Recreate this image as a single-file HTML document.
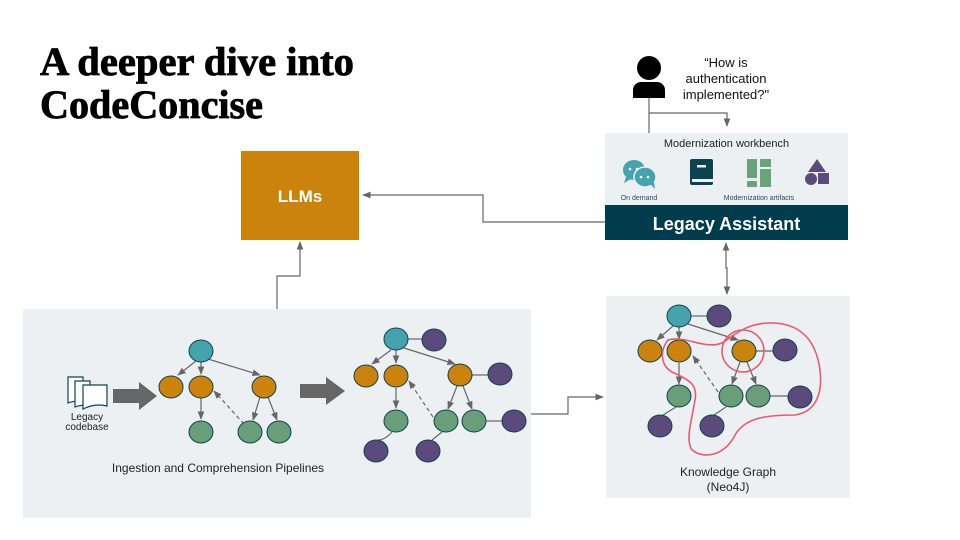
<!DOCTYPE html>
<html><head><meta charset="utf-8"><style>
html,body{margin:0;padding:0;background:#fff;}
svg{display:block;}
text{font-family:"Liberation Sans",sans-serif;}
</style></head><body>
<svg width="960" height="540" viewBox="0 0 960 540" xmlns="http://www.w3.org/2000/svg">
<defs>
<marker id="a" viewBox="0 0 10 10" refX="9" refY="5" markerWidth="7" markerHeight="7" orient="auto-start-reverse"><path d="M0,1 L10,5 L0,9 z" fill="#666"/></marker>
</defs>
<rect width="960" height="540" fill="#fff"/>
<text x="40" y="75" font-weight="bold" font-size="40" textLength="314" lengthAdjust="spacingAndGlyphs" style="font-family:'Liberation Serif',serif" stroke="#000" stroke-width="0.8">A deeper dive into</text>
<text x="40" y="118" font-weight="bold" font-size="40" textLength="223" lengthAdjust="spacingAndGlyphs" style="font-family:'Liberation Serif',serif" stroke="#000" stroke-width="0.8">CodeConcise</text>

<!-- panels -->
<rect x="23" y="309" width="508" height="209" fill="#edf0f3"/>
<rect x="606" y="296" width="244" height="202" fill="#edf0f3"/>
<rect x="605" y="133" width="243" height="72" fill="#edf0f3"/>
<rect x="605" y="205" width="243" height="35" fill="#003d4c"/>
<text x="726.5" y="230" text-anchor="middle" fill="#fff" font-weight="bold" font-size="18">Legacy Assistant</text>
<text x="726.5" y="147" text-anchor="middle" fill="#222" font-size="11">Modernization workbench</text>
<text x="639" y="200" text-anchor="middle" fill="#1d4f5e" font-size="7">On demand</text>
<text x="759" y="200" text-anchor="middle" fill="#1d4f5e" font-size="7">Modernization artifacts</text>
<!-- icons -->
<ellipse cx="634" cy="170" rx="11" ry="10" fill="#45a3ae"/><path d="M626,177 l-2,6 l7,-4z" fill="#45a3ae"/>
<ellipse cx="645" cy="177" rx="11" ry="10" fill="#45a3ae" stroke="#edf0f3" stroke-width="1.5"/><path d="M650,184 l5,5 l-1,-7z" fill="#45a3ae"/>
<circle cx="630" cy="169" r="1.3" fill="#fff"/><circle cx="637" cy="169" r="1.3" fill="#fff"/>
<circle cx="641" cy="177" r="1.3" fill="#fff"/><circle cx="648" cy="177" r="1.3" fill="#fff"/>
<rect x="690" y="159" width="23" height="26" rx="2" fill="#0b4352"/><rect x="692" y="179" width="21" height="3" fill="#edf0f3"/><rect x="697" y="165" width="9" height="2.5" fill="#edf0f3"/>
<rect x="747" y="159" width="10" height="19" fill="#6aa27a"/><rect x="747" y="181" width="10" height="6" fill="#6aa27a"/><rect x="760" y="159" width="11" height="8" fill="#6aa27a"/><rect x="760" y="169" width="11" height="18" fill="#6aa27a"/>
<path d="M817,159 l9,13 h-18z" fill="#5c4a7d"/><circle cx="811" cy="179" r="6" fill="#5c4a7d"/><rect x="818" y="173" width="11" height="11" fill="#5c4a7d"/>

<rect x="241" y="151" width="118" height="89" fill="#cb830b"/>
<text x="300" y="202" text-anchor="middle" fill="#fff" font-weight="bold" font-size="17">LLMs</text>

<!-- person -->
<circle cx="649" cy="68" r="12" fill="#000"/>
<path d="M633,98 v-8 a8,8 0 0 1 8,-8 h16 a8,8 0 0 1 8,8 v8z" fill="#000"/>
<text x="726" y="67" text-anchor="middle" font-size="13" fill="#111">“How is</text>
<text x="726" y="83" text-anchor="middle" font-size="13" fill="#111">authentication</text>
<text x="726" y="99" text-anchor="middle" font-size="13" fill="#111">implemented?"</text>

<g fill="none" stroke="#666" stroke-width="1.2">
<path d="M649,98 V133"/>
<path d="M649,113 H727 V126" marker-end="url(#a)"/>
<path d="M605,222 H483 V195 H363" marker-end="url(#a)"/>
<path d="M277,309 V276 H300 V242" marker-end="url(#a)"/>
<path d="M531,414 H568 V397 H603" marker-end="url(#a)"/>
<path d="M726,243 V268 L727,268 V294" marker-start="url(#a)" marker-end="url(#a)"/>
</g>

<!-- legacy codebase -->
<g fill="#fff" stroke="#0e4352" stroke-width="1.2">
<path d="M68,377 h15 v25 q-7,-2 -15,1z"/>
<path d="M75,381 h15 v25 q-7,-2 -15,1z"/>
<path d="M83,385 h24 v21 q-12,-3 -24,3z"/>
</g>
<text x="87" y="420" text-anchor="middle" font-size="10" fill="#222">Legacy</text>
<text x="87" y="430" text-anchor="middle" font-size="10" fill="#222">codebase</text>
<path d="M113,389 h26 v-7 l18,14 l-18,14 v-7 h-26z" fill="#666"/>
<path d="M300,384 h26 v-7 l19,14 l-19,14 v-7 h-26z" fill="#666"/>
<text x="218" y="472" text-anchor="middle" font-size="12" fill="#222">Ingestion and Comprehension Pipelines</text>
<text x="728" y="476" text-anchor="middle" font-size="12" fill="#222">Knowledge Graph</text>
<text x="728" y="491" text-anchor="middle" font-size="12" fill="#222">(Neo4J)</text>

<!-- graph1 -->
<g fill="none" stroke="#666" stroke-width="1.2">
<path d="M196,361 L178,375" marker-end="url(#a)"/><path d="M201,362 V374" marker-end="url(#a)"/><path d="M208,359 L260,375" marker-end="url(#a)"/>
<path d="M201,398 V419" marker-end="url(#a)"/><path d="M260,397 L253,420" marker-end="url(#a)"/><path d="M268,397 L277,420" marker-end="url(#a)"/>
<path d="M244,424 L214,391" stroke-dasharray="4,3" marker-end="url(#a)"/>
</g>
<!-- graph2 -->
<g fill="none" stroke="#666" stroke-width="1.2">
<path d="M408,339 H422"/><path d="M472,375 H488"/><path d="M486,421 H502"/>
<path d="M391,350 L372,364" marker-end="url(#a)"/><path d="M396,350 V363" marker-end="url(#a)"/><path d="M404,348 L455,364" marker-end="url(#a)"/>
<path d="M396,388 V408" marker-end="url(#a)"/><path d="M457,386 L448,409" marker-end="url(#a)"/><path d="M463,386 L472,409" marker-end="url(#a)"/>
<path d="M433,417 L409,381" stroke-dasharray="4,3" marker-end="url(#a)"/>
<path d="M392,432 Q385,440 378,440"/><path d="M442,432 L432,440"/>
</g>
<!-- graph3 -->
<g fill="none" stroke="#666" stroke-width="1.2">
<path d="M691,316 H707"/><path d="M756,351 H773"/><path d="M770,396 H788"/>
<path d="M673,326 L657,340" marker-end="url(#a)"/><path d="M679,327 V339" marker-end="url(#a)"/><path d="M688,324 L738,340" marker-end="url(#a)"/>
<path d="M679,363 V384" marker-end="url(#a)"/><path d="M740,362 L732,384" marker-end="url(#a)"/><path d="M747,362 L756,384" marker-end="url(#a)"/>
<path d="M718,392 L693,356" stroke-dasharray="4,3" marker-end="url(#a)"/>
<path d="M676,407 L663,415"/><path d="M726,407 L714,415"/>
</g>

<g stroke="#0e4352" stroke-width="1">
<ellipse cx="201" cy="351" rx="12" ry="11" fill="#45a3ae"/>
<ellipse cx="171" cy="387" rx="12" ry="11" fill="#cb830b"/><ellipse cx="201" cy="387" rx="12" ry="11" fill="#cb830b"/><ellipse cx="264" cy="387" rx="12" ry="11" fill="#cb830b"/>
<ellipse cx="201" cy="432" rx="12" ry="11" fill="#6a9e78"/><ellipse cx="250" cy="432" rx="12" ry="11" fill="#6a9e78"/><ellipse cx="279" cy="432" rx="12" ry="11" fill="#6a9e78"/>

<ellipse cx="396" cy="339" rx="12" ry="11" fill="#45a3ae"/><ellipse cx="434" cy="340" rx="12" ry="11" fill="#5c4a7d"/>
<ellipse cx="366" cy="376" rx="12" ry="11" fill="#cb830b"/><ellipse cx="396" cy="376" rx="12" ry="11" fill="#cb830b"/><ellipse cx="460" cy="375" rx="12" ry="11" fill="#cb830b"/><ellipse cx="500" cy="374" rx="12" ry="11" fill="#5c4a7d"/>
<ellipse cx="396" cy="421" rx="12" ry="11" fill="#6a9e78"/><ellipse cx="446" cy="421" rx="12" ry="11" fill="#6a9e78"/><ellipse cx="474" cy="421" rx="12" ry="11" fill="#6a9e78"/><ellipse cx="514" cy="421" rx="12" ry="11" fill="#5c4a7d"/>
<ellipse cx="376" cy="451" rx="12" ry="11" fill="#5c4a7d"/><ellipse cx="428" cy="451" rx="12" ry="11" fill="#5c4a7d"/>

<ellipse cx="679" cy="316" rx="12" ry="11" fill="#45a3ae"/><ellipse cx="719" cy="316" rx="12" ry="11" fill="#5c4a7d"/>
<ellipse cx="650" cy="351" rx="12" ry="11" fill="#cb830b"/><ellipse cx="679" cy="351" rx="12" ry="11" fill="#cb830b"/><ellipse cx="744" cy="351" rx="12" ry="11" fill="#cb830b"/><ellipse cx="785" cy="350" rx="12" ry="11" fill="#5c4a7d"/>
<ellipse cx="679" cy="396" rx="12" ry="11" fill="#6a9e78"/><ellipse cx="731" cy="396" rx="12" ry="11" fill="#6a9e78"/><ellipse cx="758" cy="396" rx="12" ry="11" fill="#6a9e78"/><ellipse cx="800" cy="397" rx="12" ry="11" fill="#5c4a7d"/>
<ellipse cx="660" cy="426" rx="12" ry="11" fill="#5c4a7d"/><ellipse cx="712" cy="426" rx="12" ry="11" fill="#5c4a7d"/>
</g>

<!-- red outline -->
<g fill="none" stroke="#e85a6e" stroke-width="1.6">
<circle cx="743" cy="351" r="21"/>
<path d="M668,340 C660,350 660,365 672,372 C690,380 698,385 695,400 C692,420 685,440 692,450 C705,460 725,455 735,435 C745,418 765,415 795,415 C815,412 823,395 820,370 C816,340 800,322 768,323 C745,324 735,335 722,343 C705,350 685,335 668,340 Z"/>
</g>
</svg>
</body></html>
